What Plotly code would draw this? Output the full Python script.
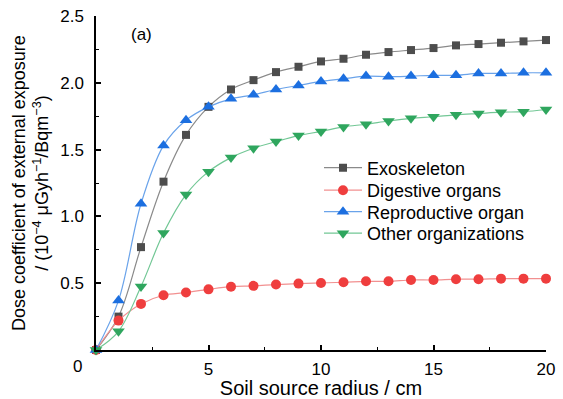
import plotly.graph_objects as go

radius = list(range(0, 21))
exoskeleton = [0, 0.25, 0.77, 1.26, 1.61, 1.82, 1.95, 2.02, 2.08, 2.12, 2.16, 2.18, 2.21, 2.23,
               2.245, 2.26, 2.28, 2.29, 2.30, 2.31, 2.32]
digestive = [0, 0.22, 0.345, 0.41, 0.43, 0.454, 0.474, 0.48, 0.49, 0.497, 0.502, 0.507, 0.514,
             0.514, 0.524, 0.524, 0.53, 0.53, 0.534, 0.534, 0.534]
reproductive = [0, 0.37, 1.095, 1.53, 1.72, 1.82, 1.88, 1.91, 1.95, 1.98, 2.01, 2.03, 2.05, 2.046,
                2.05, 2.056, 2.056, 2.07, 2.07, 2.075, 2.075]
other = [0, 0.14, 0.475, 0.875, 1.163, 1.335, 1.44, 1.51, 1.56, 1.605, 1.636, 1.67, 1.69, 1.714,
         1.734, 1.746, 1.76, 1.77, 1.78, 1.784, 1.80]

series = [
    ("Exoskeleton", exoskeleton, "square", 8, "#4d4d4d", "#8a8a8a"),
    ("Digestive organs", digestive, "circle", 10, "#ef3e3e", "#f29090"),
    ("Reproductive organ", reproductive, "triangle-up", 11, "#1c6fe0", "#6aa3ea"),
    ("Other organizations", other, "triangle-down", 11, "#2fa65e", "#72c795"),
]
legend_ids = ["legend", "legend2", "legend3", "legend4"]
legend_rows_px = [168, 190.5, 212, 233.5]

fig = go.Figure()
for (name, vals, sym, size, mc, lc), lid in zip(series, legend_ids):
    fig.add_trace(go.Scatter(
        x=radius, y=vals, name=name, mode="lines+markers",
        line=dict(color=lc, width=1.2, shape="spline"),
        marker=dict(symbol=sym, size=size, color=mc),
        cliponaxis=False, legend=lid,
    ))

font = "Liberation Sans, Arial, sans-serif"
legend_x = (319 - 96) / 450
legends = {}
for lid, ypx in zip(legend_ids, legend_rows_px):
    legends[lid] = dict(x=legend_x, y=(350 - ypx) / 334, xanchor="left", yanchor="middle",
                        bgcolor="rgba(0,0,0,0)", font=dict(size=18), itemwidth=38,
                        borderwidth=0)

fig.update_layout(
    width=563, height=399,
    margin=dict(l=96, r=17, t=16, b=49, autoexpand=False),
    plot_bgcolor="white", paper_bgcolor="white",
    font=dict(family=font, size=17, color="black"),
    showlegend=True,
    **legends,
    xaxis=dict(range=[0, 20], tickvals=[5, 10, 15, 20], showgrid=False, zeroline=False,
               automargin=False,
               showline=True, linecolor="black", linewidth=1.5,
               ticks="inside", ticklen=5, tickwidth=1.5, tickcolor="black",
               ticklabelstandoff=3,
               minor=dict(ticks="inside", ticklen=3, tickwidth=1.2, dtick=2.5, tick0=0, tickcolor="black"),
               title=dict(text="Soil source radius / cm", standoff=5)),
    yaxis=dict(range=[0, 2.5], tickvals=[0.5, 1.0, 1.5, 2.0, 2.5], tickformat=".1f",
               showgrid=False, zeroline=False, automargin=False,
               showline=True, linecolor="black", linewidth=1.5,
               ticks="inside", ticklen=5, tickwidth=1.5, tickcolor="black",
               ticklabelstandoff=7,
               minor=dict(ticks="inside", ticklen=3, tickwidth=1.2, dtick=0.25, tick0=0, tickcolor="black")),
    annotations=[
        dict(text="0", xref="paper", yref="paper", x=(77 - 96) / 450, y=(350 - 367) / 334,
             xanchor="center", yanchor="middle", showarrow=False, font=dict(size=17)),
        dict(text="(a)", xref="paper", yref="paper", x=(141 - 96) / 450, y=(350 - 35) / 334,
             xanchor="center", yanchor="middle", showarrow=False, font=dict(size=17)),
        dict(text="Dose coefficient of external exposure<br>/ (10<sup>−4</sup> μGyh<sup>−1</sup>/Bqm<sup>−3</sup>)",
             xref="paper", yref="paper", x=(30 - 96) / 450, y=0.5, textangle=-90,
             xanchor="center", yanchor="middle", showarrow=False, font=dict(size=18)),
    ],
)

fig.write_html("out.html", config={"displayModeBar": False},
               post_script="document.body.style.margin='0';document.body.style.overflow='hidden';")
